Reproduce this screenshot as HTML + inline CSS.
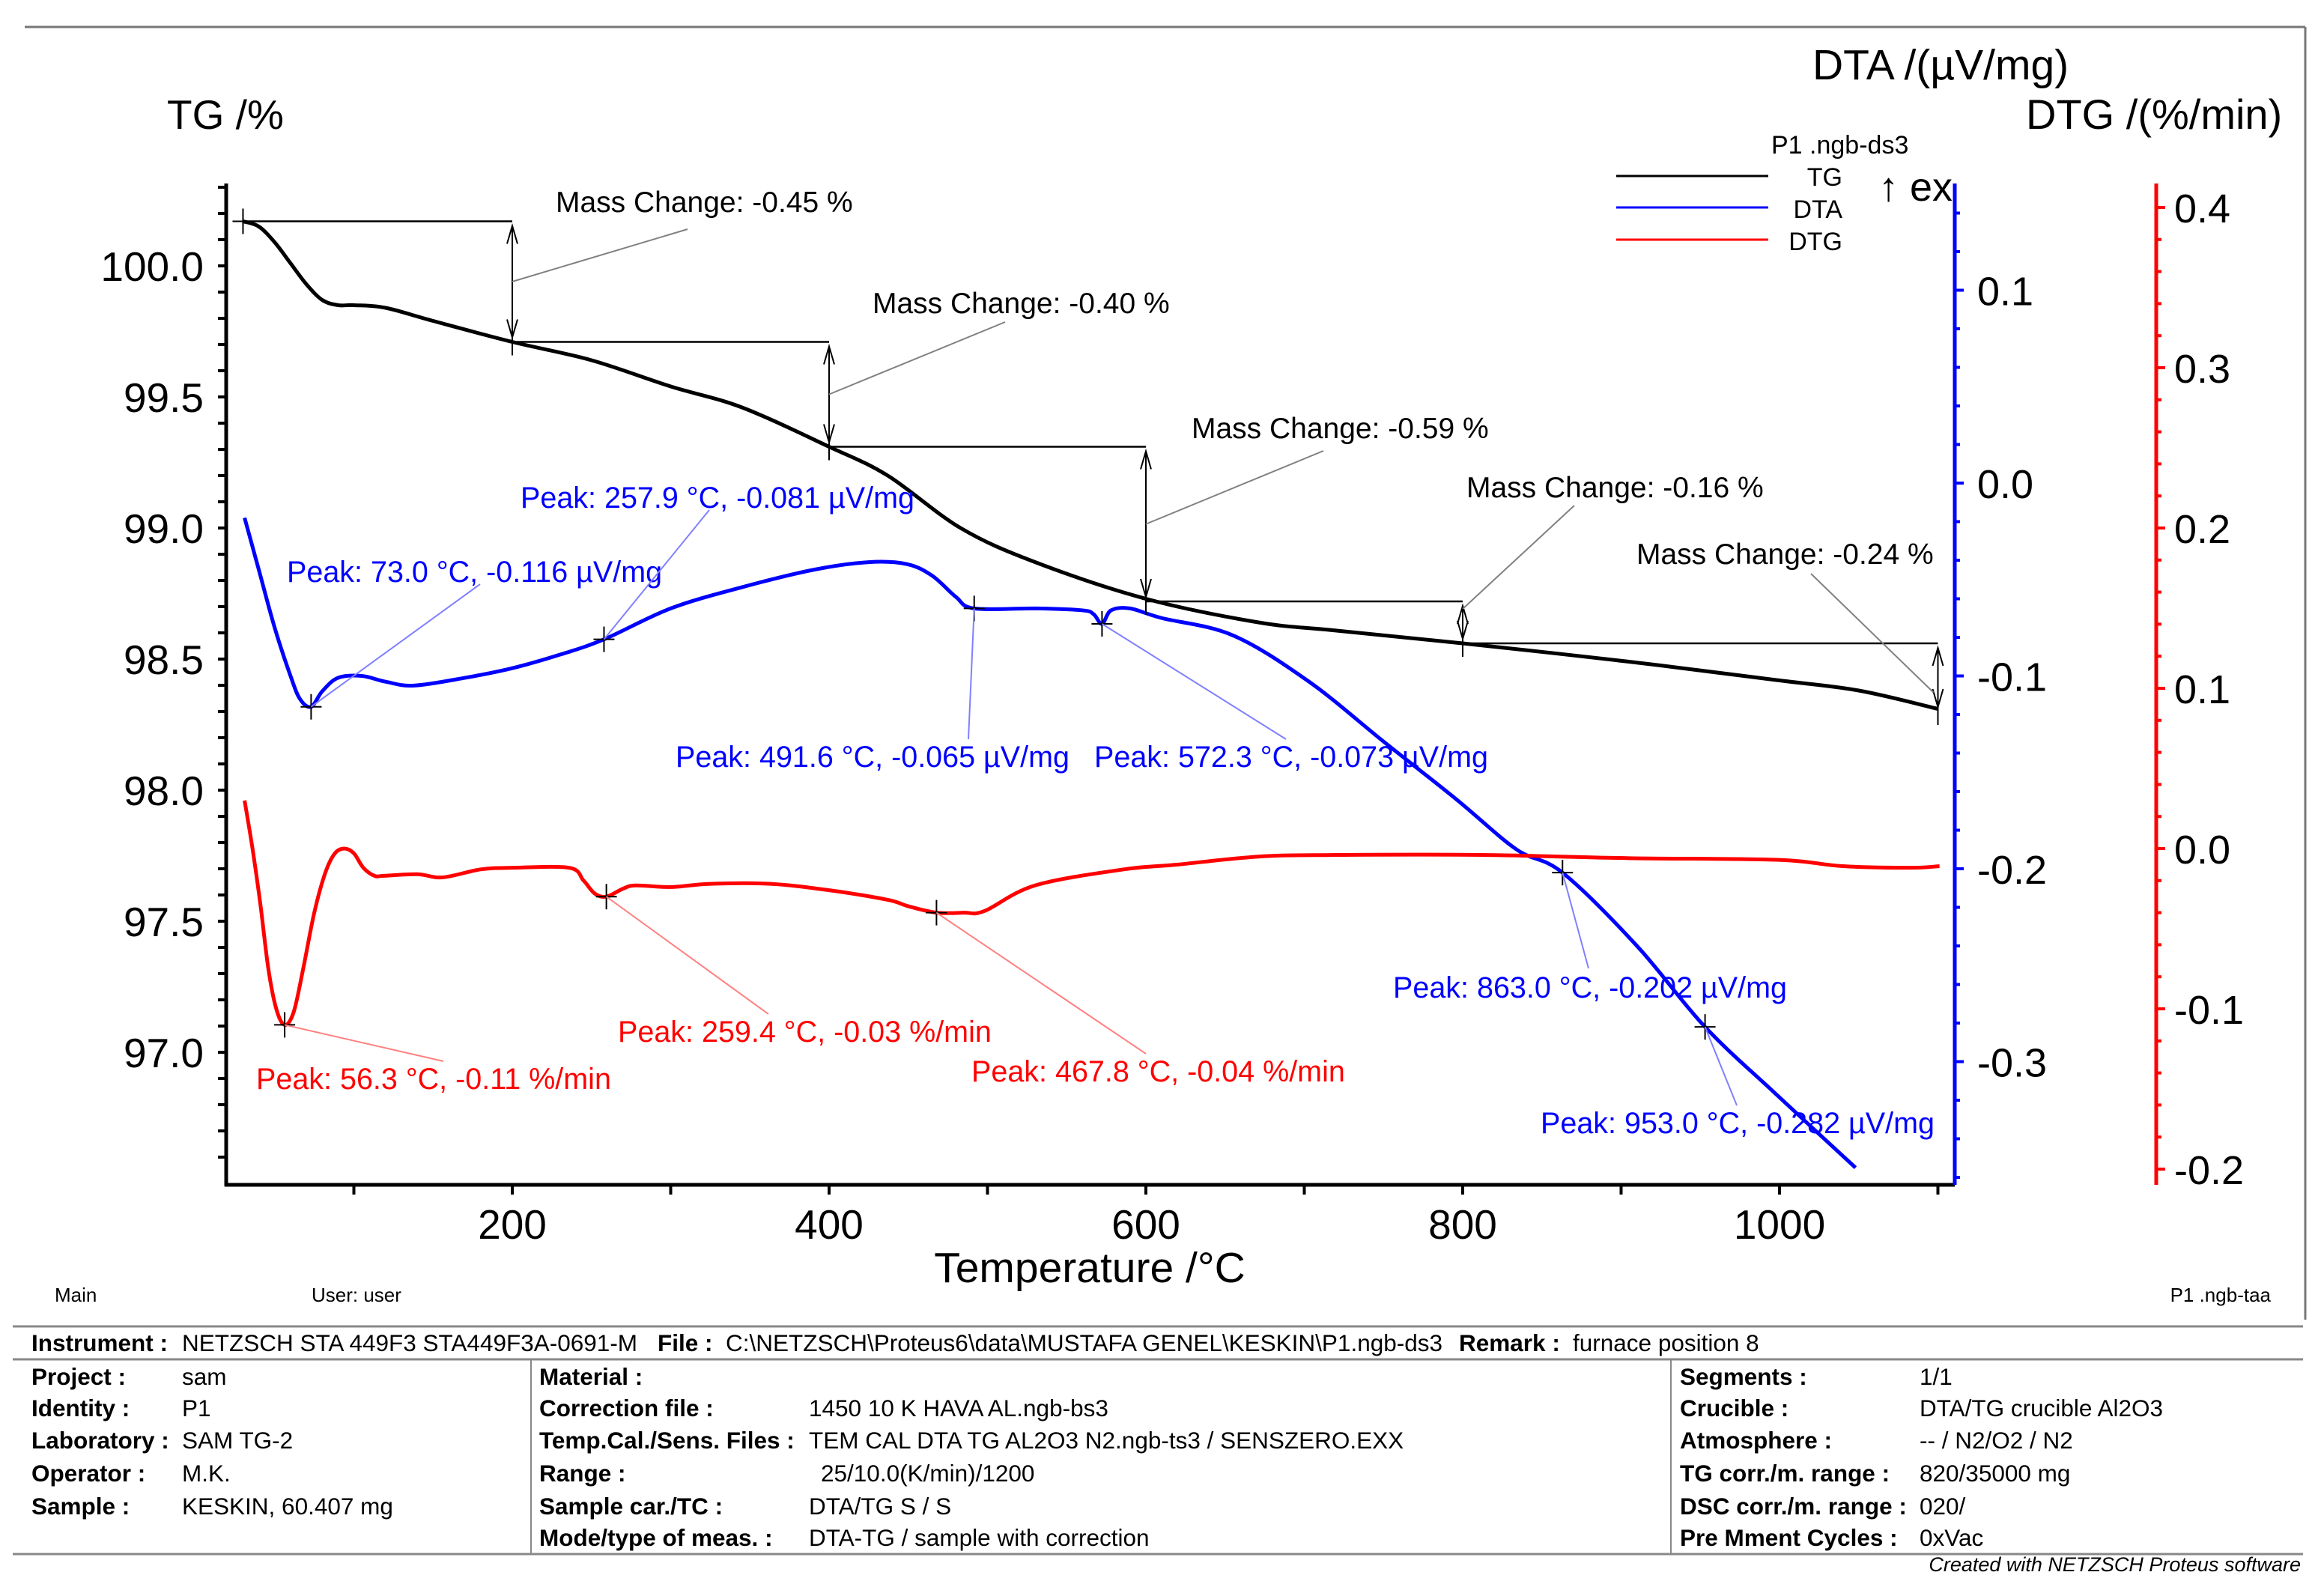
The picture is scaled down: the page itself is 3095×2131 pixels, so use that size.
<!DOCTYPE html>
<html><head><meta charset="utf-8"><style>
html,body{margin:0;padding:0;background:#fff}
svg{display:block}
text{font-family:"Liberation Sans",Arial,sans-serif}
</style></head><body>
<svg id="chart" width="3095" height="2131" viewBox="0 0 3095 2131" xmlns="http://www.w3.org/2000/svg">
<g id="frame">
<line x1="33" y1="36" x2="3078" y2="36" stroke="#777" stroke-width="3"/>
<line x1="3078" y1="36" x2="3078" y2="1762" stroke="#777" stroke-width="3"/>
</g>
<text x="223" y="172" font-size="55">TG /%</text>
<text x="2420" y="106" font-size="57">DTA /(µV/mg)</text>
<text x="2705" y="172" font-size="56">DTG /(%/min)</text>
<g>
<text x="2365" y="205" font-size="34">P1 .ngb-ds3</text>
<line x1="2158" y1="235" x2="2361" y2="235" stroke="#000" stroke-width="3"/>
<text x="2460" y="248" font-size="34" text-anchor="end">TG</text>
<line x1="2158" y1="277" x2="2361" y2="277" stroke="#0000ff" stroke-width="3"/>
<text x="2460" y="291" font-size="34" text-anchor="end">DTA</text>
<line x1="2158" y1="320" x2="2361" y2="320" stroke="#ff0000" stroke-width="3"/>
<text x="2460" y="334" font-size="34" text-anchor="end">DTG</text>
<text x="2508" y="268" font-size="54">↑ ex</text>
</g>
<g id="axes"></g>
<g id="marks"></g>
<g id="annots"></g>
<text x="1455" y="1712" font-size="57" text-anchor="middle">Temperature /°C</text>
<g font-size="26">
<text x="73" y="1738">Main</text>
<text x="416" y="1738">User: user</text>
<text x="3032" y="1738" text-anchor="end">P1 .ngb-taa</text>
</g>
<g font-size="31.5">
<line x1="17" y1="1771" x2="3075" y2="1771" stroke="#888" stroke-width="3"/>
<line x1="17" y1="1815" x2="3075" y2="1815" stroke="#888" stroke-width="3"/>
<line x1="17" y1="2075" x2="3075" y2="2075" stroke="#888" stroke-width="3"/>
<line x1="709" y1="1815" x2="709" y2="2075" stroke="#888" stroke-width="2"/>
<line x1="2231" y1="1815" x2="2231" y2="2075" stroke="#888" stroke-width="2"/>
<text x="42" y="1804"><tspan font-weight="bold">Instrument :</tspan><tspan x="243">NETZSCH STA 449F3 STA449F3A-0691-M</tspan><tspan x="878" font-weight="bold">File :</tspan><tspan x="969">C:\NETZSCH\Proteus6\data\MUSTAFA GENEL\KESKIN\P1.ngb-ds3</tspan><tspan x="1948" font-weight="bold">Remark :</tspan><tspan x="2100">furnace position 8</tspan></text>
<g font-weight="bold">
<text x="42" y="1849">Project :</text><text x="42" y="1891">Identity :</text><text x="42" y="1934">Laboratory :</text><text x="42" y="1978">Operator :</text><text x="42" y="2022">Sample :</text>
<text x="720" y="1849">Material :</text><text x="720" y="1891">Correction file :</text><text x="720" y="1934">Temp.Cal./Sens. Files :</text><text x="720" y="1978">Range :</text><text x="720" y="2022">Sample car./TC :</text><text x="720" y="2064">Mode/type of meas. :</text>
<text x="2243" y="1849">Segments :</text><text x="2243" y="1891">Crucible :</text><text x="2243" y="1934">Atmosphere :</text><text x="2243" y="1978">TG corr./m. range :</text><text x="2243" y="2022">DSC corr./m. range :</text><text x="2243" y="2064">Pre Mment Cycles :</text>
</g>
<text x="243" y="1849">sam</text><text x="243" y="1891">P1</text><text x="243" y="1934">SAM TG-2</text><text x="243" y="1978">M.K.</text><text x="243" y="2022">KESKIN, 60.407 mg</text>
<text x="1080" y="1891">1450 10 K HAVA AL.ngb-bs3</text><text x="1080" y="1934">TEM CAL DTA TG AL2O3 N2.ngb-ts3 / SENSZERO.EXX</text><text x="1096" y="1978">25/10.0(K/min)/1200</text><text x="1080" y="2022">DTA/TG S / S</text><text x="1080" y="2064">DTA-TG / sample with correction</text>
<text x="2563" y="1849">1/1</text><text x="2563" y="1891">DTA/TG crucible Al2O3</text><text x="2563" y="1934">-- / N2/O2 / N2</text><text x="2563" y="1978">820/35000 mg</text><text x="2563" y="2022">020/</text><text x="2563" y="2064">0xVac</text>
<text x="3072" y="2098" font-size="27" font-style="italic" text-anchor="end">Created with NETZSCH Proteus software</text>
</g>
</svg>
<script>
const NS="http://www.w3.org/2000/svg";
// ---- data ----
const xTicks=[200,400,600,800,1000];
const tgTicks=[97.0,97.5,98.0,98.5,99.0,99.5,100.0];
const dtaTicks=[-0.3,-0.2,-0.1,0.0,0.1];
const dtgTicks=[-0.2,-0.1,0.0,0.1,0.2,0.3,0.4];
const tgT=[30,40,50,60,70,80,90,100,120,150,200,250,300,345,400,437,483,530,600,671,718,800,905,998,1050,1100];
const tgV=[100.17,100.15,100.09,100.01,99.93,99.87,99.85,99.85,99.84,99.79,99.71,99.64,99.54,99.46,99.31,99.2,99.0,98.87,98.73,98.64,98.61,98.56,98.49,98.42,98.38,98.31];
const dtaT=[31,40,50,60,66,73,80,90,105,120,138,170,200,230,258,300,345,390,425,449,465,480,491.6,531,560,567,572.3,578,590,610,655,703,750,796,834,863,910,953,998,1048];
const dtaV=[-0.018,-0.045,-0.075,-0.1,-0.112,-0.116,-0.108,-0.101,-0.1,-0.103,-0.105,-0.101,-0.096,-0.089,-0.081,-0.065,-0.054,-0.045,-0.041,-0.042,-0.048,-0.059,-0.065,-0.065,-0.066,-0.068,-0.073,-0.066,-0.065,-0.07,-0.079,-0.103,-0.134,-0.164,-0.19,-0.202,-0.24,-0.282,-0.317,-0.355];
const dtgT=[31,36,41,46,51,56.3,62,68,75,82,88,94,100,106,113,119,140,156,180,200,236,245,252,259.4,270,278,300,325,363,400,437,450,467.8,485,498,530,586,620,671,718,812,905,998,1040,1082,1101];
const dtgV=[0.03,0.0,-0.035,-0.075,-0.1,-0.11,-0.102,-0.075,-0.04,-0.015,-0.003,0.0,-0.003,-0.012,-0.017,-0.017,-0.016,-0.018,-0.013,-0.012,-0.012,-0.02,-0.028,-0.03,-0.025,-0.023,-0.024,-0.022,-0.022,-0.026,-0.032,-0.036,-0.04,-0.04,-0.039,-0.023,-0.013,-0.01,-0.005,-0.004,-0.004,-0.006,-0.007,-0.011,-0.012,-0.011];
const mcT=[30,200,400,600,800,1100];
const mcLevel=[100.17,99.71,99.31,98.72,98.56,98.30];
const mcText=["Mass Change: -0.45 %","Mass Change: -0.40 %","Mass Change: -0.59 %","Mass Change: -0.16 %","Mass Change: -0.24 %"];
const dtaPeakT=[73.0,257.9,491.6,572.3,863.0,953.0];
const dtaPeakV=[-0.116,-0.081,-0.065,-0.073,-0.202,-0.282];
const dtgPeakT=[56.3,259.4,467.8];
const dtgPeakV=[-0.11,-0.03,-0.04];
// ---- axes functions ----
const X=t=>684+(t-200)*2.115;
const YTG=v=>355+(100-v)*350;
const YDTA=v=>645-v*2575;
const YDTG=v=>1133-v*2140;
const axL=302, axR=2610, axR2=2879, axB=1582, axT=245;
function el(tag,attrs,parent,txt){const e=document.createElementNS(NS,tag);for(const k in attrs)e.setAttribute(k,attrs[k]);if(txt!==undefined)e.textContent=txt;parent.appendChild(e);return e;}
const axes=document.getElementById('axes'),marks=document.getElementById('marks'),ann=document.getElementById('annots');
let a=el('line',{x1:axL,y1:axT,x2:axL,y2:axB+2,stroke:'#000','stroke-width':5},axes);


for(let v=96.6;v<=100.3;v+=0.1){const y=YTG(v);if(y<axT||y>axB)continue;el('line',{x1:axL-11,y1:y,x2:axL,y2:y,stroke:'#000','stroke-width':4},axes);}
tgTicks.forEach(v=>{const t=el('text',{x:axL-30,y:YTG(v)+20,'font-size':55,'text-anchor':'end'},axes,v.toFixed(1));

});
a=el('line',{x1:axL-2,y1:axB,x2:axR,y2:axB,stroke:'#000','stroke-width':5},axes);


for(let t=100;t<=1100;t+=100){el('line',{x1:X(t),y1:axB,x2:X(t),y2:axB+13,stroke:'#000','stroke-width':4},axes);}
xTicks.forEach(t=>{const e=el('text',{x:X(t),y:axB+72,'font-size':55,'text-anchor':'middle'},axes,t);

});
a=el('line',{x1:axR,y1:axT,x2:axR,y2:axB,stroke:'#0000ff','stroke-width':5},axes);


for(let i=-18;i<=7;i++){const v=i*0.02,y=YDTA(v);if(y<axT+10||y>axB)continue;el('line',{x1:axR,y1:y,x2:axR+(i%5===0?12:7),y2:y,stroke:'#0000ff','stroke-width':4},axes);}
dtaTicks.forEach(v=>{const e=el('text',{x:axR+30,y:YDTA(v)+20,'font-size':54},axes,v.toFixed(1));

});
a=el('line',{x1:axR2,y1:axT,x2:axR2,y2:axB,stroke:'#ff0000','stroke-width':5},axes);


for(let i=-10;i<=20;i++){const v=i*0.02,y=YDTG(v);if(y<axT||y>axB)continue;el('line',{x1:axR2,y1:y,x2:axR2+(i%5===0?12:7),y2:y,stroke:'#ff0000','stroke-width':4},axes);}
dtgTicks.forEach(v=>{const e=el('text',{x:axR2+24,y:YDTG(v)+20,'font-size':54},axes,v.toFixed(1));

});
function path(T,V,Y,color,name){
 const pts=T.map((t,i)=>[X(t),Y(V[i])]);
 let d='M'+pts[0][0]+','+pts[0][1];
 for(let i=0;i<pts.length-1;i++){const p0=pts[i-1]||pts[i],p1=pts[i],p2=pts[i+1],p3=pts[i+2]||p2;
  const c1=[p1[0]+(p2[0]-p0[0])/6,p1[1]+(p2[1]-p0[1])/6],c2=[p2[0]-(p3[0]-p1[0])/6,p2[1]-(p3[1]-p1[1])/6];
  d+=' C'+c1+' '+c2+' '+p2;}
 const p=el('path',{d:d,fill:'none',stroke:color,'stroke-width':5,'stroke-linejoin':'round'},marks);
 
 
}
path(tgT,tgV,YTG,'#000','tg-curve');
path(dtaT,dtaV,YDTA,'#0000ff','dta-curve');
path(dtgT,dtgV,YDTG,'#ff0000','dtg-curve');
function cross(x,y){el('line',{x1:x-14,y1:y,x2:x+14,y2:y,stroke:'#000','stroke-width':2},ann);el('line',{x1:x,y1:y-17,x2:x,y2:y+17,stroke:'#000','stroke-width':2},ann);}
function arrow(x,y1,y2){el('line',{x1:x,y1:y1+6,x2:x,y2:y2-6,stroke:'#000','stroke-width':2},ann);
 el('path',{d:`M${x-7},${y1+30} L${x},${y1+6} L${x+7},${y1+30}`,fill:'none',stroke:'#000','stroke-width':2},ann);
 el('path',{d:`M${x-7},${y2-30} L${x},${y2-6} L${x+7},${y2-30}`,fill:'none',stroke:'#000','stroke-width':2},ann);}
const mcTxtPos=[[742,283],[1165,418],[1591,585],[1958,664],[2185,753]];
const mcLead=[[918,306],[1342,430],[1767,602],[2102,675],[2418,766]];
cross(X(mcT[0]),YTG(mcLevel[0]));
for(let i=0;i<5;i++){
 const x0=X(mcT[i]),x1=X(mcT[i+1]),y0=YTG(mcLevel[i]),y1=YTG(mcLevel[i+1]);
 el('line',{x1:x0,y1:y0,x2:x1,y2:y0,stroke:'#000','stroke-width':2.5},ann);
 arrow(x1,y0,y1);
 el('line',{x1:x1,y1:y1-18,x2:x1,y2:y1+18,stroke:'#000','stroke-width':2},ann);
 const mx=(i===4)?x1-6:x1;
 el('line',{x1:mx,y1:(i===3)?y0+10:(y0+y1)/2+(i===4?20:0),x2:mcLead[i][0],y2:mcLead[i][1],stroke:'#808080','stroke-width':2},ann);
 const t=el('text',{x:mcTxtPos[i][0],y:mcTxtPos[i][1],'font-size':39},ann,mcText[i]);
 
 
}
const dtaTxtPos=[[383,777],[695,678],[902,1024],[1461,1024],[1860,1332],[2057,1513]];
const dtaLead=[[641,780],[947,681],[1293,987],[1717,987],[2121,1293],[2319,1476]];
dtaPeakT.forEach((t,i)=>{const x=X(t),y=YDTA(dtaPeakV[i]);cross(x,y);
 el('line',{x1:x,y1:y,x2:dtaLead[i][0],y2:dtaLead[i][1],stroke:'#8080ff','stroke-width':2},ann);
 const e=el('text',{x:dtaTxtPos[i][0],y:dtaTxtPos[i][1],'font-size':39.5,fill:'#0000ff'},ann,`Peak: ${t.toFixed(1)} °C, ${dtaPeakV[i].toFixed(3)} µV/mg`);
 
 });
const dtgTxtPos=[[342,1454],[825,1391],[1297,1444]];
const dtgLead=[[592,1417],[1026,1354],[1530,1407]];
dtgPeakT.forEach((t,i)=>{const x=X(t),y=YDTG(dtgPeakV[i]);cross(x,y);
 el('line',{x1:x,y1:y,x2:dtgLead[i][0],y2:dtgLead[i][1],stroke:'#ff8080','stroke-width':2},ann);
 const e=el('text',{x:dtgTxtPos[i][0],y:dtgTxtPos[i][1],'font-size':39.5,fill:'#ff0000'},ann,`Peak: ${t.toFixed(1)} °C, ${String(dtgPeakV[i])} %/min`);
 
 });
</script>
</body></html>
